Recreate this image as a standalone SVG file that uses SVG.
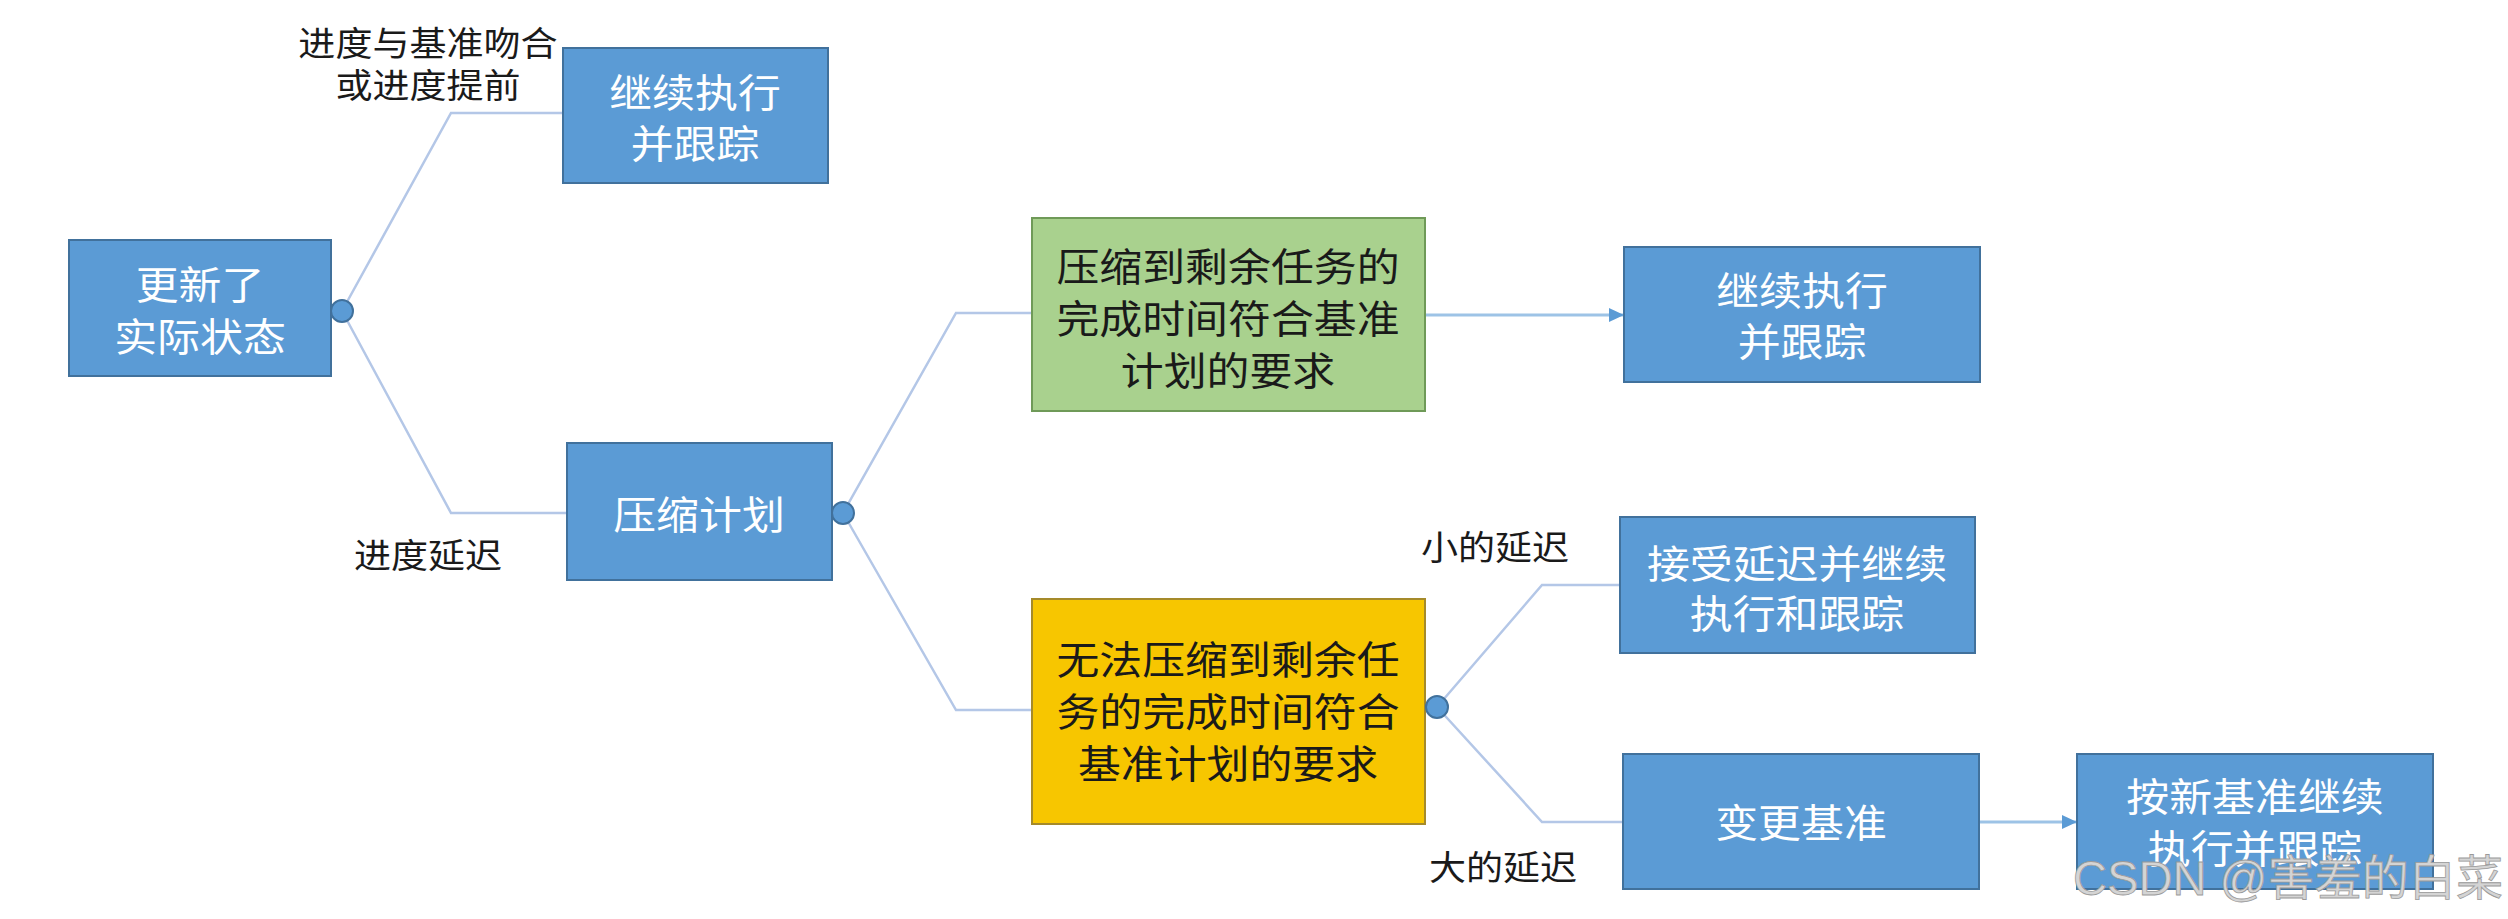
<svg xmlns="http://www.w3.org/2000/svg" width="2508" height="919" viewBox="0 0 2508 919">
<defs>
<style>
.bx{fill:#5b9bd5;stroke:#41719c;stroke-width:2}
.gr{fill:#a9d18e;stroke:#6f9a58;stroke-width:2}
.yl{fill:#f7c600;stroke:#a58a2a;stroke-width:2}
.t{font-family:"Noto Sans CJK SC","Noto Sans",sans-serif;font-size:39px;fill:#ffffff;text-anchor:middle}
.tk{font-family:"Noto Sans CJK SC","Noto Sans",sans-serif;font-size:39px;fill:#1a1a1a;text-anchor:middle}
.lb{font-family:"Noto Sans CJK SC","Noto Sans",sans-serif;font-size:34px;fill:#1a1a1a;text-anchor:middle}
.ln{fill:none;stroke:#b4c7e7;stroke-width:2.5}
.ar{fill:none;stroke:#9dc3e6;stroke-width:3}
.dot{fill:#5b9bd5;stroke:#41719c;stroke-width:2}
.wm{font-family:"Liberation Sans","Noto Sans CJK SC",sans-serif;font-size:48px;fill:#d4d4d4;stroke:#9a9a9a;stroke-width:0.8}
</style>
<marker id="ah" markerWidth="16" markerHeight="16" refX="15" refY="8" orient="auto" markerUnits="userSpaceOnUse">
<path d="M0,1 L15,8 L0,15 Z" fill="#5b9bd5"/>
</marker>
</defs>
<rect width="2508" height="919" fill="#ffffff"/>

<g id="connectors">
<path class="ln" d="M342,311 L451,113 L563,113"/>
<path class="ln" d="M342,311 L451,513 L567,513"/>
<path class="ln" d="M843,513 L956,313 L1032,313"/>
<path class="ln" d="M843,513 L956,710 L1032,710"/>
<path class="ln" d="M1437,707 L1542,585 L1620,585"/>
<path class="ln" d="M1437,707 L1542,822 L1623,822"/>
<path class="ar" d="M1425,315 L1624,315" marker-end="url(#ah)"/>
<path class="ar" d="M1979,822 L2077,822" marker-end="url(#ah)"/>
</g>

<g id="labels">
<text class="lb" transform="translate(428 0) scale(1.09 1)"><tspan x="0" y="56">进度与基准吻合</tspan><tspan x="0" y="98">或进度提前</tspan></text>
<text class="lb" transform="translate(428 0) scale(1.09 1)" x="0" y="568">进度延迟</text>
<text class="lb" transform="translate(1495 0) scale(1.09 1)" x="0" y="560">小的延迟</text>
<text class="lb" transform="translate(1503 0) scale(1.09 1)" x="0" y="880">大的延迟</text>
</g>

<g id="node-update">
<rect class="bx" x="69" y="240" width="262" height="136"/>
<text class="t" transform="translate(200 0) scale(1.1 1)"><tspan x="0" y="299">更新了</tspan><tspan x="0" y="351">实际状态</tspan></text>
</g>
<circle id="dot-update" class="dot" cx="342" cy="311" r="11"/>

<g id="node-continue1">
<rect class="bx" x="563" y="48" width="265" height="135"/>
<text class="t" transform="translate(695 0) scale(1.1 1)"><tspan x="0" y="107">继续执行</tspan><tspan x="0" y="158">并跟踪</tspan></text>
</g>

<g id="node-compress">
<rect class="bx" x="567" y="443" width="265" height="137"/>
<text class="t" transform="translate(699 0) scale(1.1 1)" x="0" y="529">压缩计划</text>
</g>
<circle id="dot-compress" class="dot" cx="843" cy="513" r="11"/>

<g id="node-ok">
<rect class="gr" x="1032" y="218" width="393" height="193"/>
<text class="tk" transform="translate(1228 0) scale(1.1 1)"><tspan x="0" y="281">压缩到剩余任务的</tspan><tspan x="0" y="333">完成时间符合基准</tspan><tspan x="0" y="385">计划的要求</tspan></text>
</g>

<g id="node-continue2">
<rect class="bx" x="1624" y="247" width="356" height="135"/>
<text class="t" transform="translate(1802 0) scale(1.1 1)"><tspan x="0" y="305">继续执行</tspan><tspan x="0" y="356">并跟踪</tspan></text>
</g>

<g id="node-fail">
<rect class="yl" x="1032" y="599" width="393" height="225"/>
<text class="tk" transform="translate(1228 0) scale(1.1 1)"><tspan x="0" y="674">无法压缩到剩余任</tspan><tspan x="0" y="726">务的完成时间符合</tspan><tspan x="0" y="778">基准计划的要求</tspan></text>
</g>
<circle id="dot-fail" class="dot" cx="1437" cy="707" r="11"/>

<g id="node-accept">
<rect class="bx" x="1620" y="517" width="355" height="136"/>
<text class="t" transform="translate(1797 0) scale(1.1 1)"><tspan x="0" y="578">接受延迟并继续</tspan><tspan x="0" y="628">执行和跟踪</tspan></text>
</g>

<g id="node-rebaseline">
<rect class="bx" x="1623" y="754" width="356" height="135"/>
<text class="t" transform="translate(1801 0) scale(1.1 1)" x="0" y="837">变更基准</text>
</g>

<g id="node-newbaseline">
<rect class="bx" x="2077" y="754" width="356" height="135"/>
<text class="t" transform="translate(2255 0) scale(1.1 1)"><tspan x="0" y="811">按新基准继续</tspan><tspan x="0" y="863">执行并跟踪</tspan></text>
</g>

<text class="wm" x="2073" y="895" textLength="430" lengthAdjust="spacingAndGlyphs">CSDN @害羞的白菜</text>
</svg>
